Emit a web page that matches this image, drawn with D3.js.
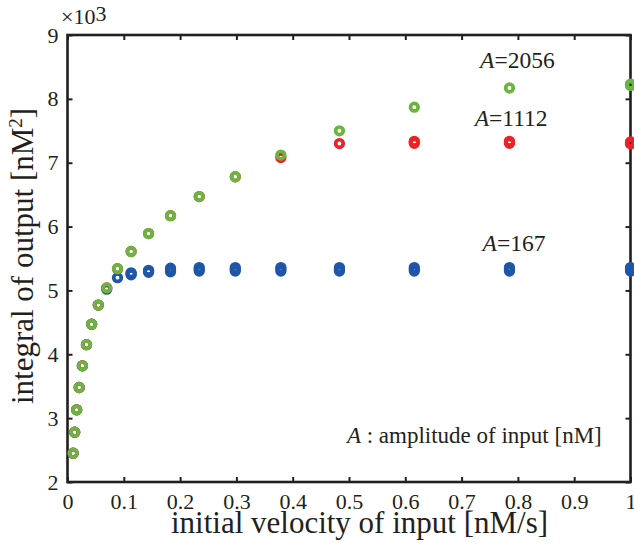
<!DOCTYPE html>
<html>
<head>
<meta charset="utf-8">
<script src="https://cdn.jsdelivr.net/npm/d3@7"></script>
<style>
  body { margin: 0; background: white; }
  text { font-family: "Liberation Serif", "DejaVu Serif", serif; fill: #231f20; }
</style>
</head>
<body>
<div id="graph"></div>
<script>
// initial velocity of input [nM/s]
const velocity = [0.0100, 0.0128, 0.0163, 0.0208, 0.0264, 0.0337, 0.0429, 0.0547, 0.0697, 0.0888,
  0.113, 0.144, 0.183, 0.234, 0.298, 0.379, 0.483, 0.616, 0.785, 1.0]

// integral of output, x10^3 nM^2
const outA167 = [2.45, 2.78, 3.13, 3.48, 3.82, 4.15, 4.47, 4.77, 5.02, 5.20,
  5.26, 5.30, 5.32, 5.33, 5.33, 5.33, 5.33, 5.33, 5.33, 5.33]
const outA1112 = [2.45, 2.78, 3.13, 3.48, 3.82, 4.15, 4.47, 4.77, 5.04, 5.34,
  5.61, 5.89, 6.17, 6.47, 6.78, 7.08, 7.30, 7.32, 7.32, 7.31]
const outA2056 = [2.45, 2.78, 3.13, 3.48, 3.82, 4.15, 4.47, 4.77, 5.04, 5.34,
  5.61, 5.89, 6.17, 6.47, 6.78, 7.12, 7.50, 7.87, 8.17, 8.22]

// spread between repeated runs (same units)
const spread167 = [0, 0, 0, 0, 0, 0, 0, 0, 0, 0,
  0.03, 0.03, 0.055, 0.055, 0.055, 0.055, 0.055, 0.055, 0.055, 0.055]
const spread1112 = [0, 0, 0, 0, 0, 0, 0, 0, 0, 0,
  0, 0, 0, 0, 0, 0, 0, 0.03, 0.03, 0.03]
const spread2056 = [0, 0, 0, 0, 0, 0, 0, 0, 0, 0,
  0, 0, 0, 0, 0, 0, 0, 0, 0, 0.02]

const amplitudes = ['167', '1112', '2056']
const labelAt = [[0.793, 5.61], [0.788, 7.58], [0.799, 8.48]]   // [x, y] in data units
const colors = ['#1f56a8', '#ec2227', '#6bb43f']

const xTicks = [0, 0.1, 0.2, 0.3, 0.4, 0.5, 0.6, 0.7, 0.8, 0.9, 1]
const yTicks = [2, 3, 4, 5, 6, 7, 8, 9]

const W = 634
const H = 545
const margin = {top: 35, right: 3.5, bottom: 63, left: 67.5}

const svg = d3.select('#graph')
  .append('svg')
  .attr('width', W)
  .attr('height', H)

const x = d3.scaleLinear()
  .domain([0, 1])
  .range([margin.left, W - margin.right])

const y = d3.scaleLinear()
  .domain([2, 9])
  .range([H - margin.bottom, margin.top])

// axes, ticks pointing inward on all four sides
const fmtX = d => d === 0 || d === 1 ? String(d) : d3.format('.1f')(d)

const styleAxis = g => {
  g.select('.domain').remove()
  g.selectAll('.tick line')
    .attr('stroke', '#231f20')
    .attr('stroke-width', 2)
  g.selectAll('.tick text')
    .attr('fill', '#231f20')
    .style('font-family', '"Liberation Serif", serif')
    .style('font-size', '22px')
}

svg.append('g')
  .attr('transform', `translate(0,${y(2)})`)
  .call(d3.axisBottom(x).tickValues(xTicks).tickFormat(fmtX).tickSizeInner(-5).tickSizeOuter(0).tickPadding(11))
  .call(styleAxis)

svg.append('g')
  .attr('transform', `translate(0,${y(9)})`)
  .call(d3.axisTop(x).tickValues(xTicks).tickFormat('').tickSizeInner(-5).tickSizeOuter(0))
  .call(styleAxis)

svg.append('g')
  .attr('transform', `translate(${x(0)},0)`)
  .call(d3.axisLeft(y).tickValues(yTicks).tickFormat(d3.format('d')).tickSizeInner(-5).tickSizeOuter(0).tickPadding(9))
  .call(styleAxis)

svg.append('g')
  .attr('transform', `translate(${x(1)},0)`)
  .call(d3.axisRight(y).tickValues(yTicks).tickFormat('').tickSizeInner(-5).tickSizeOuter(0))
  .call(styleAxis)

// frame
svg.append('rect')
  .attr('x', x(0))
  .attr('y', y(9))
  .attr('width', x(1) - x(0))
  .attr('height', y(2) - y(9))
  .attr('fill', 'none')
  .attr('stroke', '#231f20')
  .attr('stroke-width', 2.6)

// markers: blue first, then red, green on top
const series = [
  {vals: outA167, spread: spread167},
  {vals: outA1112, spread: spread1112},
  {vals: outA2056, spread: spread2056}
]

series.forEach((s, k) => {
  const pts = []
  velocity.forEach((v, i) => {
    const sp = s.spread[i]
    const offs = sp > 0 ? [-sp / 2, 0, sp / 2] : [0]
    offs.forEach(o => pts.push([v, s.vals[i] + o]))
  })
  svg.append('g')
    .selectAll('circle')
    .data(pts)
    .join('circle')
    .attr('cx', d => x(d[0]))
    .attr('cy', d => y(d[1]))
    .attr('r', 3.8)
    .attr('fill', 'none')
    .attr('stroke', colors[k])
    .attr('stroke-width', 3.7)
})

// series labels
amplitudes.forEach((a, k) => {
  const t = svg.append('text')
    .attr('x', x(labelAt[k][0]))
    .attr('y', y(labelAt[k][1]))
    .attr('text-anchor', 'middle')
    .style('font-size', '23.5px')
  t.append('tspan').style('font-style', 'italic').text('A')
  t.append('tspan').text('=' + a)
})

// note
const note = svg.append('text')
  .attr('x', x(0.949))
  .attr('y', y(2.61))
  .attr('text-anchor', 'end')
  .style('font-size', '23px')
note.append('tspan').style('font-style', 'italic').text('A')
note.append('tspan').text(' : amplitude of input [nM]')

// x label
svg.append('text')
  .attr('x', 359.5)
  .attr('y', 533)
  .attr('text-anchor', 'middle')
  .style('font-size', '31px')
  .text('initial velocity of input [nM/s]')

// y label
const yl = svg.append('text')
  .attr('transform', 'translate(33,256) rotate(-90)')
  .attr('text-anchor', 'middle')
  .style('font-size', '31px')
yl.append('tspan').text('integral of output [nM')
yl.append('tspan').attr('dy', -11).style('font-size', '19px').text('2')
yl.append('tspan').attr('dy', 11).text(']')

// exponent
const ex = svg.append('text')
  .attr('x', 61)
  .attr('y', 24)
  .style('font-size', '22px')
ex.append('tspan').text('×10')
ex.append('tspan').attr('dy', -3).text('3')
</script>
</body>
</html>
